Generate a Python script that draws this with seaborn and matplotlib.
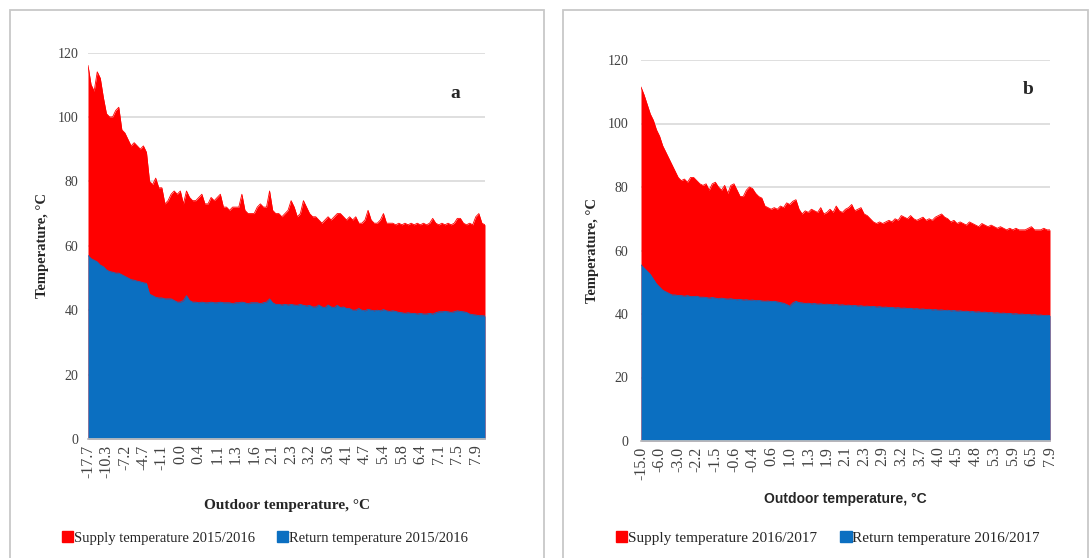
import matplotlib
matplotlib.use("Agg")
import matplotlib.pyplot as plt
from matplotlib.patches import Rectangle, Patch
import numpy as np
import pandas as pd
import seaborn as sns

# ---- Heating season 2015/2016 (days sorted by outdoor temperature) ----
supply_2015 = [
    116, 110, 108, 114, 112, 106, 101, 100, 100, 102,
    103, 96, 95, 93, 91, 92, 91, 90, 91, 89,
    80, 79, 81, 78, 78, 73, 74, 76, 77, 76,
    77, 73, 77, 75, 74, 74, 75, 76, 73, 73,
    75, 74, 75, 76, 72, 72, 71, 72, 72, 72,
    76, 71, 70, 70, 70, 72, 73, 72, 72, 77,
    71, 70, 70, 69, 70, 71, 74, 72, 69, 70,
    74, 72, 70, 69, 69, 68, 67, 68, 69, 68,
    69, 70, 70, 69, 68, 69, 68, 69, 67, 67,
    68, 71, 68, 67, 67, 68, 70, 67, 67, 67,
    66.5, 67, 66.5, 67, 66.5, 67, 66.5, 67, 66.5, 67,
    66.5, 67, 68.5, 67, 66.5, 67, 66.5, 67, 66.5, 67,
    68.5, 68.5, 67, 66.5, 67, 66.5, 69, 70, 67, 66.5,
]
return_2015 = [
    57, 56, 55.5, 55, 54, 53.5, 52.5, 52, 51.8, 51.5,
    51.5, 51, 50.5, 50, 49.5, 49.3, 49, 48.8, 48.5, 48.3,
    45, 44.5, 44, 43.8, 43.8, 43.5, 43.5, 43.5, 43, 42.5,
    42.5, 43, 44.5, 43, 42.5, 42.5, 42.3, 42.5, 42.3, 42.3,
    42.5, 42.3, 42.3, 42.5, 42.3, 42.3, 42.3, 42, 42.3, 42.3,
    42.5, 42.3, 42, 42.3, 42.3, 42.3, 42, 42.3, 42.5, 43.5,
    42.3, 41.8, 41.8, 41.6, 41.8, 41.6, 41.8, 41.6, 41.5, 41.8,
    41.5, 41.3, 41.5, 41, 41, 41.6, 41, 40.8, 41.6, 41,
    40.8, 41.5, 40.8, 41, 40.5, 40.5, 40, 40, 40.5, 40,
    39.8, 40.3, 40, 39.8, 40, 39.8, 40.2, 39.8, 39.6, 39.8,
    39.6, 39.3, 39.2, 39, 39.2, 39, 39, 38.8, 39, 38.8,
    38.8, 39, 38.8, 39.2, 39.5, 39.5, 39.6, 39.5, 39.3, 39.5,
    39.8, 39.6, 39.5, 39.3, 38.8, 38.6, 38.5, 38.3, 38.3, 38.2,
]
ticks_2015 = ["-17.7", "-10.3", "-7.2", "-4.7", "-1.1", "0.0", "0.4", "1.1",
              "1.3", "1.6", "2.1", "2.3", "3.2", "3.6", "4.1", "4.7", "5.4",
              "5.8", "6.4", "7.1", "7.5", "7.9"]

# ---- Heating season 2016/2017 ----
supply_2016 = [
    111.5, 109, 106, 103, 101, 98, 96, 93, 91, 89,
    87, 85, 83, 82, 82.5, 81.5, 83, 83, 82, 81,
    80.5, 81, 79, 81, 81.5, 80, 79, 80.5, 78, 80.5,
    81, 79, 77, 77, 79, 80, 79.5, 78, 77, 76.5,
    74, 73.5, 73, 73.5, 73, 74, 73.5, 75, 74.5, 75.5,
    76, 73, 71.5, 72.5, 72, 73, 72.5, 72, 73.5, 71.5,
    72, 73, 72, 74, 72.5, 72, 73, 73.5, 74.5, 72.5,
    73, 73.5, 71.5, 71, 70, 69, 68.5, 69, 68.5, 69,
    69.5, 69, 70, 69.5, 71, 70.5, 70, 71, 70, 69.5,
    70, 70.5, 69.5, 70, 69.5, 70.5, 71, 71.5, 70.5, 70,
    69, 69.5, 68.5, 69, 68.5, 68, 69, 68.5, 68, 67.5,
    68.5, 68, 67.5, 68, 67.5, 67, 67.5, 67, 66.5, 67,
    66.5, 67, 66.5, 66.5, 66.5, 67, 67.5, 66.5, 66.5, 66.5,
    67, 66.5, 66.5,
]
return_2016 = [
    55.5, 54.5, 53.5, 52.5, 51, 49.5, 48.5, 47.5, 47, 46.5,
    46, 46, 45.8, 45.8, 45.6, 45.8, 45.5, 45.5, 45.6, 45.3,
    45.3, 45.2, 45, 45.2, 45, 44.8, 45, 44.8, 44.7, 44.8,
    44.6, 44.5, 44.6, 44.4, 44.5, 44.3, 44.4, 44.2, 44.3, 44.1,
    44, 44.1, 43.9, 44, 43.8, 43.6, 43.4, 43, 42.5, 43.5,
    44, 43.6, 43.5, 43.3, 43.4, 43.2, 43.3, 43.1, 43.2, 43,
    43.1, 43, 42.9, 43, 42.8, 42.9, 42.7, 42.8, 42.6, 42.7,
    42.5, 42.6, 42.4, 42.5, 42.3, 42.4, 42.2, 42.3, 42.1, 42.2,
    42, 42.1, 41.9, 42, 41.8, 41.9, 41.7, 41.8, 41.6, 41.7,
    41.5, 41.6, 41.4, 41.5, 41.3, 41.4, 41.2, 41.3, 41.1, 41.2,
    41, 41.1, 40.9, 41, 40.8, 40.9, 40.7, 40.8, 40.6, 40.7,
    40.5, 40.6, 40.4, 40.5, 40.3, 40.4, 40.2, 40.3, 40.1, 40.2,
    40, 40.1, 39.9, 40, 39.8, 39.9, 39.7, 39.8, 39.6, 39.7,
    39.5, 39.6, 39.5,
]
ticks_2016 = ["-15.0", "-6.0", "-3.0", "-2.2", "-1.5", "-0.6", "-0.4", "0.6",
              "1.0", "1.3", "1.9", "2.1", "2.3", "2.9", "3.2", "3.7", "4.0",
              "4.5", "4.8", "5.3", "5.9", "6.5", "7.9"]

TICK_STEP = 6
RED = "#ff0000"
BLUE = "#0b6fc1"
GRID = "#d9d9d9"
SERIF = ["Liberation Serif", "DejaVu Serif"]
SANS = ["Liberation Sans", "DejaVu Sans"]

sns.set_theme(style="white")
plt.rcParams["font.family"] = SERIF

W, H = 1092, 558
fig = plt.figure(figsize=(W / 100, H / 100), dpi=100)


def fx(px):
    return px / W


def fy(py):
    return 1 - py / H


def draw_panel(rect, supply, ret, ticks, tag, tag_xy, xlabel_font,
               xlabel_size, xlabel_pad, ytick_pad):
    ax = fig.add_axes(rect)
    df = pd.DataFrame({"day": np.arange(len(supply)),
                       "supply": supply, "return": ret})
    sns.lineplot(data=df, x="day", y="supply", ax=ax, color=RED, lw=0.6)
    ax.fill_between(df["day"], 0, df["supply"], color=RED, lw=0)
    sns.lineplot(data=df, x="day", y="return", ax=ax, color=BLUE, lw=0.6)
    ax.fill_between(df["day"], 0, df["return"], color=BLUE, lw=0)

    ax.set_xlim(0, len(supply) - 1)
    ax.set_ylim(0, 120)
    ax.set_yticks(range(0, 121, 20))
    ax.yaxis.grid(True, color=GRID, lw=1.2)
    ax.set_axisbelow(True)
    for s in ("top", "right", "left"):
        ax.spines[s].set_visible(False)
    ax.spines["bottom"].set_color("#bfbfbf")
    ax.set_xticks(np.arange(len(ticks)) * TICK_STEP)
    ax.set_xticklabels(ticks, rotation=90, fontsize=11.5, color="#404040",
                       family=SERIF)
    ax.tick_params(axis="y", labelsize=10, colors="#404040", length=0,
                   pad=ytick_pad)
    ax.tick_params(axis="x", length=0, pad=4)
    ax.set_xlabel("Outdoor temperature, °C", fontsize=xlabel_size,
                  fontweight="bold", family=xlabel_font, labelpad=xlabel_pad)
    ax.set_ylabel("Temperature, °C", fontsize=10.5, fontweight="bold",
                  family=SERIF, labelpad=6)
    fig.text(fx(tag_xy[0]), fy(tag_xy[1]), tag, fontsize=14,
             fontweight="bold", ha="center", va="center", family=SERIF)
    return ax


# panel frames
fig.patches.append(Rectangle((fx(10), -0.02), fx(534), fy(10) + 0.02,
                             transform=fig.transFigure, fill=False,
                             ec="#c8c8c8", lw=1.3))
fig.patches.append(Rectangle((fx(563), -0.02), fx(525), fy(10) + 0.02,
                             transform=fig.transFigure, fill=False,
                             ec="#c8c8c8", lw=1.3))

ax_a = draw_panel([fx(88), fy(439), fx(397), fy(52.5) - fy(439)],
                  supply_2015, return_2015, ticks_2015,
                  "a", (455, 94), SERIF, 11, 15, 7)
ax_b = draw_panel([fx(641), fy(441), fx(409), fy(60) - fy(441)],
                  supply_2016, return_2016, ticks_2016,
                  "b", (1028, 89), SANS, 10, 9, 9)

for season, cx, size in (("2015/2016", 265, 10.5), ("2016/2017", 828, 11)):
    handles = [Patch(color=RED, label=f"Supply temperature {season}"),
               Patch(color=BLUE, label=f"Return temperature {season}")]
    fig.legend(handles=handles, loc="center", ncol=2,
               bbox_to_anchor=(fx(cx), fy(538)), frameon=False,
               handlelength=0.75, handleheight=0.75,
               handletextpad=0.05, columnspacing=1.5,
               prop={"family": SERIF, "size": size})

fig.savefig("out.png", dpi=100)
